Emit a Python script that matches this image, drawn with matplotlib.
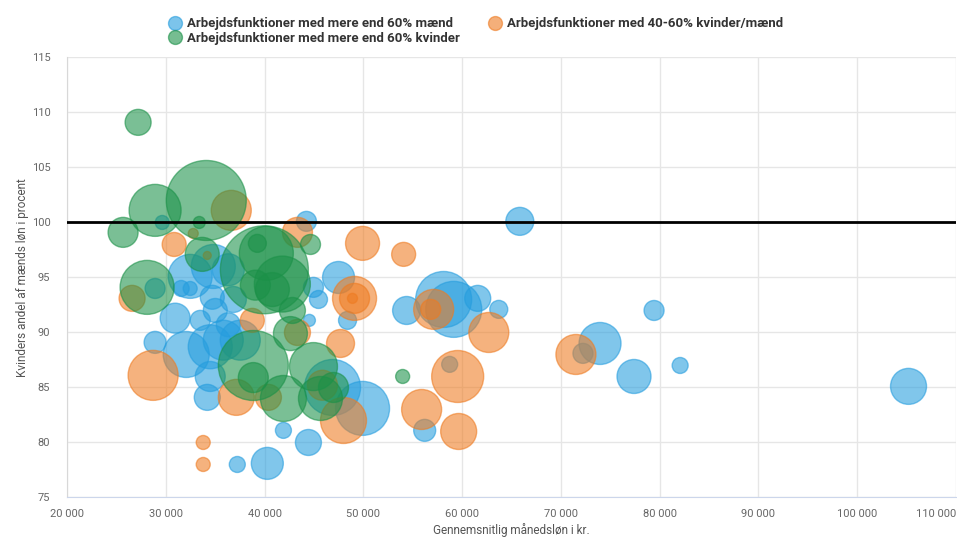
import matplotlib.pyplot as plt
from matplotlib.ticker import FuncFormatter
from matplotlib.lines import Line2D

# maend-dominerede arbejdsfunktioner: loen, kvinders andel, boblestoerrelse
maend_x = [29640, 44240, 65840, 47490, 44950, 45460, 44540, 48400, 32470, 34810,
           36330, 28920, 31560, 32470, 34710, 35010, 30950, 33490, 28920, 32070,
           34500, 35820, 37540, 36840, 34500, 34200, 46880, 49920, 41910, 44440,
           37240, 40280, 54380, 58130, 59150, 61580, 63710, 56210, 58740, 73960,
           72230, 77400, 79430, 82070, 105190, 36330]
maend_y = [100.0, 100.1, 100.1, 95.0, 94.1, 93.0, 91.1, 91.1, 95.1, 96.0,
           95.7, 94.0, 94.0, 94.0, 93.2, 92.0, 91.3, 91.1, 89.1, 88.0,
           88.7, 89.3, 89.3, 93.0, 86.0, 84.1, 85.0, 83.1, 81.1, 80.0,
           78.0, 78.1, 92.0, 93.0, 92.1, 93.1, 92.1, 81.1, 87.1, 89.0,
           88.1, 86.0, 92.0, 87.0, 85.1, 90.7]
maend_str = [7, 10, 14, 16, 10, 9, 6, 9, 22, 22,
             16, 10, 8, 7, 12, 12, 15, 10, 11, 23,
             22, 20, 20, 13, 15, 13, 28, 27, 8, 13,
             8, 16, 14, 28, 28, 13, 9, 11, 8, 21,
             10, 17, 10, 8, 18, 12]

# 40-60% kvinder/maend
blandet_x = [32780, 30850, 36630, 34200, 43330, 49920, 54080, 26590, 49110, 49110,
             48900, 38760, 43330, 47690, 28720, 37140, 40390, 45860, 47990, 33790,
             33790, 57120, 56820, 62700, 59550, 55900, 59650, 71520]
blandet_y = [99.0, 98.0, 101.1, 97.0, 99.1, 98.1, 97.1, 93.1, 93.1, 93.1,
             93.1, 91.1, 90.0, 89.0, 86.1, 84.1, 84.1, 85.2, 82.0, 80.0,
             78.0, 92.1, 92.1, 90.0, 86.0, 83.0, 81.0, 88.0]
blandet_str = [5, 12, 20, 4, 15, 17, 12, 13, 22, 15,
               5, 12, 13, 14, 25, 18, 13, 15, 23, 7,
               7, 20, 10, 20, 26, 20, 18, 20]

# kvinde-dominerede arbejdsfunktioner
kvinder_x = [27200, 34100, 28920, 25680, 33390, 33690, 39980, 40180, 41800, 39270,
             44650, 28110, 38860, 38860, 41910, 44950, 45660, 46980, 42820, 42620,
             53980, 39070, 40790]
kvinder_y = [109.1, 102.0, 101.1, 99.1, 100.0, 97.1, 95.7, 97.2, 94.4, 98.1,
             98.0, 94.1, 87.0, 85.9, 84.0, 86.9, 84.0, 85.0, 92.0, 89.9,
             86.0, 94.3, 93.9]
kvinder_str = [13, 40, 26, 15, 6, 17, 44, 27, 28, 9,
               10, 27, 35, 15, 23, 24, 22, 15, 13, 17,
               7, 15, 17]

navne = ['Arbejdsfunktioner med mere end 60% mænd',
         'Arbejdsfunktioner med 40-60% kvinder/mænd',
         'Arbejdsfunktioner med mere end 60% kvinder']
farver = ['#259dde', '#ee7b21', '#1b9148']

xticks = [20000, 30000, 40000, 50000, 60000, 70000, 80000, 90000, 100000, 110000]
yticks = [75, 80, 85, 90, 95, 100, 105, 110, 115]

plt.rcParams['font.family'] = ['Roboto', 'DejaVu Sans']

fig = plt.figure(figsize=(9.57, 5.37), dpi=100)
ax = fig.add_axes([0.070, 0.0736, 0.929, 0.8194])


def size(r):
    return [(1.44 * v) ** 2 for v in r]


serier = [(maend_x, maend_y, maend_str), (blandet_x, blandet_y, blandet_str),
          (kvinder_x, kvinder_y, kvinder_str)]
for i, (x, y, r) in enumerate(serier):
    ax.scatter(x, y, s=size(r), color=farver[i], alpha=0.58, edgecolors=farver[i],
               linewidths=1.0, zorder=3 + i)

ax.axhline(100, color='black', lw=2, zorder=10)

ax.set_xlim(20000, 110000)
ax.set_ylim(75, 115)
ax.set_xticks(xticks)
ax.set_yticks(yticks)
ax.xaxis.set_major_formatter(FuncFormatter(lambda v, p: f'{int(v):,}'.replace(',', ' ')))
ax.tick_params(length=0, labelsize=8, labelcolor='#666666')
ax.tick_params(axis='x', pad=8)
ax.tick_params(axis='y', pad=12)
labs = ax.get_xticklabels()
labs[-1].set_horizontalalignment('right')

ax.grid(True, color='#e6e6e6', lw=1, zorder=0)
ax.set_axisbelow(True)
for s in ['top', 'right']:
    ax.spines[s].set_visible(False)
ax.spines['left'].set_color('#d8d8d8')
ax.spines['bottom'].set_color('#ccd6eb')

ax.set_xlabel('Gennemsnitlig månedsløn i kr.', fontsize=8.5, color='#555555')
ax.set_ylabel('Kvinders andel af mænds løn i procent', fontsize=8.5, color='#555555')
ax.xaxis.set_label_coords(0.5, -0.058)
ax.yaxis.set_label_coords(-0.043, 0.5)

handles = [Line2D([], [], marker='o', ls='', ms=10, color=farver[0], alpha=0.6),
           Line2D([], [], marker='o', ls='', ms=10, color=farver[2], alpha=0.6),
           Line2D([], [], marker='o', ls='', ms=10, color=farver[1], alpha=0.6)]
leg = fig.legend(handles, [navne[0], navne[2], navne[1]], ncol=2, loc='upper center',
                 bbox_to_anchor=(0.497, 0.99), frameon=False, handletextpad=0.4,
                 columnspacing=2.2, labelspacing=0.1, handlelength=1.0,
                 prop={'weight': 'bold', 'size': 9.5})
for t in leg.get_texts():
    t.set_color('#333333')

fig.savefig('out.png', dpi=100)
